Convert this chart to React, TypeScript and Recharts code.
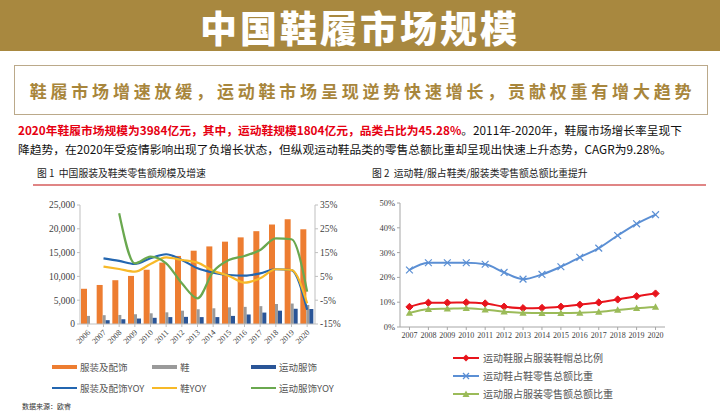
import React from 'react';
import { ComposedChart, LineChart, Bar, Line, XAxis, YAxis } from 'recharts';

// ---------- Chart 1 data ----------
const years1 = ['2006', '2007', '2008', '2009', '2010', '2011', '2012', '2013', '2014', '2015', '2016', '2017', '2018', '2019', '2020'];
const apparelSales = [7400, 8200, 9200, 10100, 11400, 12900, 14300, 15400, 16300, 17300, 18200, 19500, 20900, 22000, 19900];
const shoeSales = [1700, 1850, 1900, 2050, 2250, 2450, 2800, 3100, 3300, 3500, 3600, 3750, 4200, 4300, 4000];
const sportSales = [0, 800, 1000, 1150, 1300, 1450, 1500, 1450, 1450, 1700, 2000, 2400, 2800, 3200, 3150];
const apparelYoy = [null, 12.6, 11.5, 10.2, 12.6, 14.3, 11.9, 8.4, 6.6, 5.6, 5.3, 6.3, 8.0, 7.6, -9.0];
const shoeYoy = [null, 9.1, 8.1, 7.0, 10.2, 13.0, 11.9, 10.8, 7.4, 5.2, 2.4, 4.2, 8.0, 7.7, -6.3];
const sportYoy = [null, null, 31.5, 10.5, 13.3, 10.5, 2.1, -4.2, 7.0, 11.9, 13.6, 16.1, 21.0, 20.6, -1.4];
const leftTicks = [0, 5000, 10000, 15000, 20000, 25000];
const rightTicks = [-15, -10, -5, 0, 5, 10, 15, 20, 25, 30, 35];

// ---------- Chart 2 data ----------
const years2 = ['2007', '2008', '2009', '2010', '2011', '2012', '2013', '2014', '2015', '2016', '2017', '2018', '2019', '2020'];
const sportTotalShare = [8.1, 9.8, 9.8, 9.9, 9.5, 8.2, 7.6, 7.7, 8.2, 9.0, 9.9, 11.1, 12.4, 13.5];
const sportShoeShare = [23.0, 25.9, 25.9, 25.9, 25.3, 22.0, 19.3, 21.2, 24.3, 28.1, 31.8, 36.9, 41.6, 45.3];
const sportApparelShare = [5.7, 7.2, 7.4, 7.6, 7.0, 6.2, 5.7, 5.6, 5.6, 5.7, 6.1, 6.9, 7.6, 8.1];
const shareTicks = [0, 5, 10, 15, 20, 25, 30, 35, 40, 45, 50];

const data1 = years1.map((y, i) => ({
  year: y,
  apparel: apparelSales[i],
  shoe: shoeSales[i],
  sport: sportSales[i],
  apparelYoy: apparelYoy[i],
  shoeYoy: shoeYoy[i],
  sportYoy: sportYoy[i],
}));

const data2 = years2.map((y, i) => ({
  year: y,
  total: sportTotalShare[i],
  shoe: sportShoeShare[i],
  apparel: sportApparelShare[i],
}));

const C_ORANGE = '#ed7d31';
const C_GRAY = '#9a9a9a';
const C_NAVY = '#2a5597';
const C_BLUE = '#2366b0';
const C_YELLOW = '#f7b928';
const C_GREEN = '#6aa84f';

const C2_RED = '#e8141c';
const C2_BLUE = '#5b8fd4';
const C2_GREEN = '#9bbb59';

const CJK = '"Noto Sans CJK SC", "Noto Sans", sans-serif';
const SERIF = '"Liberation Serif", "DejaVu Serif", serif';

const RotTick = (props: any) => {
  const { x, y, payload } = props;
  const tx = x + 3;
  const ty = y + 4;
  return (
    <text x={tx} y={ty} transform={`rotate(-45, ${tx}, ${ty})`} textAnchor="end" fontSize={8} fontFamily={SERIF} fill="#404040">
      {payload.value}
    </text>
  );
};

const Diamond = (props: any) => {
  const { cx, cy, index } = props;
  if (cx == null || cy == null) return <g key={`dm${index}`} />;
  const s = 3.6;
  return <polygon key={`dm${index}`} points={`${cx},${cy - s} ${cx + s},${cy} ${cx},${cy + s} ${cx - s},${cy}`} fill={C2_RED} stroke={C2_RED} strokeWidth={1} />;
};

const Cross = (props: any) => {
  const { cx, cy, index } = props;
  if (cx == null || cy == null) return <g key={`cr${index}`} />;
  const s = 3.4;
  return (
    <g key={`cr${index}`}>
      <line x1={cx - s} y1={cy - s} x2={cx + s} y2={cy + s} stroke={C2_BLUE} strokeWidth={1.2} />
      <line x1={cx - s} y1={cy + s} x2={cx + s} y2={cy - s} stroke={C2_BLUE} strokeWidth={1.2} />
    </g>
  );
};

const Tri = (props: any) => {
  const { cx, cy, index } = props;
  if (cx == null || cy == null) return <g key={`tr${index}`} />;
  const s = 3.6;
  return <polygon key={`tr${index}`} points={`${cx},${cy - s} ${cx + s},${cy + s * 0.8} ${cx - s},${cy + s * 0.8}`} fill={C2_GREEN} />;
};

const legend1 = [
  { label: '服装及配饰', color: C_ORANGE, thick: true, x: 52, y: 367 },
  { label: '鞋', color: C_GRAY, thick: true, x: 152, y: 367 },
  { label: '运动服饰', color: C_NAVY, thick: true, x: 251, y: 367 },
  { label: '服装及配饰YOY', color: C_BLUE, thick: false, x: 52, y: 388 },
  { label: '鞋YOY', color: C_YELLOW, thick: false, x: 152, y: 388 },
  { label: '运动服饰YOY', color: C_GREEN, thick: false, x: 251, y: 388 },
];

const legend2 = [
  { label: '运动鞋服占服装鞋帽总比例', color: C2_RED, marker: 'diamond', y: 358 },
  { label: '运动鞋占鞋零售总额比重', color: C2_BLUE, marker: 'cross', y: 376 },
  { label: '运动服占服装零售额总额比重', color: C2_GREEN, marker: 'tri', y: 394 },
];

export default function App() {
  return (
    <div style={{ position: 'absolute', left: 0, top: 0, width: 720, height: 412, background: '#fff', overflow: 'hidden', fontFamily: CJK }}>
      {/* Banner */}
      <div style={{ position: 'absolute', left: 0, top: 0, width: 720, height: 51, background: '#a8883f' }} />
      <div style={{ position: 'absolute', left: 0, top: 7, width: 720, lineHeight: '40px', textAlign: 'center', color: '#fff', fontSize: 37, fontWeight: 900, letterSpacing: 3, whiteSpace: 'nowrap' }}>
        中国鞋履市场规模
      </div>

      {/* Subtitle box */}
      <div style={{ position: 'absolute', left: 14, top: 65, width: 692, height: 48, border: '1.5px solid #bba98a' }} />
      <div style={{ position: 'absolute', left: 14, top: 65, width: 697, height: 51, lineHeight: '51px', textAlign: 'center', color: '#a8863c', fontSize: 17, fontWeight: 700, letterSpacing: 3.8, whiteSpace: 'nowrap' }}>
        鞋履市场增速放缓，运动鞋市场呈现逆势快速增长，贡献权重有增大趋势
      </div>

      {/* Paragraph */}
      <div style={{ position: 'absolute', left: 18, top: 121, fontSize: 11.75, lineHeight: '18px', color: '#111', whiteSpace: 'nowrap' }}>
        <span style={{ color: '#e60012', fontWeight: 700 }}>2020年鞋履市场规模为3984亿元，其中，运动鞋规模1804亿元，品类占比为45.28%</span>。2011年-2020年，鞋履市场增长率呈现下
      </div>
      <div style={{ position: 'absolute', left: 18, top: 140, fontSize: 11.75, lineHeight: '18px', color: '#111', whiteSpace: 'nowrap' }}>
        降趋势，在2020年受疫情影响出现了负增长状态，但纵观运动鞋品类的零售总额比重却呈现出快速上升态势，CAGR为9.28%。
      </div>

      {/* Chart titles */}
      <div style={{ position: 'absolute', left: 37, top: 166, fontSize: 9.8, lineHeight: '14px', color: '#222', whiteSpace: 'nowrap' }}>
        图 1&nbsp;&nbsp;中国服装及鞋类零售额规模及增速
      </div>
      <div style={{ position: 'absolute', left: 372, top: 166, fontSize: 9.8, lineHeight: '14px', color: '#222', whiteSpace: 'nowrap' }}>
        图 2&nbsp;&nbsp;运动鞋/服占鞋类/服装类零售额总额比重提升
      </div>
      <div style={{ position: 'absolute', left: 33, top: 184, width: 673, height: 1.5, background: '#e08585' }} />

      {/* Chart 1 */}
      <div style={{ position: 'absolute', left: 30, top: 195 }}>
        <ComposedChart width={330} height={165} data={data1} margin={{ top: 10, right: 5, bottom: 6, left: 0 }} barGap={0}>
          <XAxis dataKey="year" tick={<RotTick />} interval={0} height={30} axisLine={{ stroke: '#bfbfbf' }} tickLine={{ stroke: '#bfbfbf' }} tickSize={3} />
          <YAxis yAxisId="left" width={50} domain={[0, 25000]} ticks={leftTicks} tickFormatter={(v: number) => v.toLocaleString('en-US')} tick={{ fontSize: 9.5, fontFamily: SERIF, fill: '#404040' }} axisLine={{ stroke: '#bfbfbf' }} tickLine={{ stroke: '#bfbfbf' }} tickSize={3} />
          <YAxis yAxisId="right" orientation="right" width={40} domain={[-15, 35]} ticks={rightTicks} tickFormatter={(v: number) => `${v}%`} tick={{ fontSize: 9.5, fontFamily: SERIF, fill: '#404040' }} axisLine={{ stroke: '#bfbfbf' }} tickLine={{ stroke: '#bfbfbf' }} tickSize={3} />
          <Bar yAxisId="left" dataKey="apparel" fill={C_ORANGE} barSize={6} isAnimationActive={false} />
          <Bar yAxisId="left" dataKey="shoe" fill={C_GRAY} barSize={3} isAnimationActive={false} />
          <Bar yAxisId="left" dataKey="sport" fill={C_NAVY} barSize={4} isAnimationActive={false} />
          <Line yAxisId="right" type="monotone" dataKey="apparelYoy" stroke={C_BLUE} strokeWidth={2.2} dot={false} isAnimationActive={false} />
          <Line yAxisId="right" type="monotone" dataKey="shoeYoy" stroke={C_YELLOW} strokeWidth={2.2} dot={false} isAnimationActive={false} />
          <Line yAxisId="right" type="monotone" dataKey="sportYoy" stroke={C_GREEN} strokeWidth={2.2} dot={false} isAnimationActive={false} />
        </ComposedChart>
      </div>

      {/* Legend 1 */}
      {legend1.map((l) => (
        <div key={l.label} style={{ position: 'absolute', left: l.x, top: l.y - 7, height: 14, display: 'flex', alignItems: 'center', whiteSpace: 'nowrap' }}>
          <div style={{ width: 25, height: l.thick ? 4 : 2, background: l.color, marginRight: 3 }} />
          <span style={{ fontSize: 9.5, color: '#555', lineHeight: '14px' }}>{l.label}</span>
        </div>
      ))}
      <div style={{ position: 'absolute', left: 22, top: 401, fontSize: 7, color: '#333', lineHeight: '10px', whiteSpace: 'nowrap' }}>数据来源：欧睿</div>

      {/* Chart 2 */}
      <div style={{ position: 'absolute', left: 360, top: 195 }}>
        <LineChart width={320} height={152} data={data2} margin={{ top: 8, right: 15, bottom: 2, left: 0 }}>
          <XAxis dataKey="year" scale="band" interval={0} height={18} tick={{ fontSize: 8, fontFamily: SERIF, fill: '#404040' }} axisLine={{ stroke: '#a6a6a6' }} tickLine={{ stroke: '#a6a6a6' }} tickSize={3} tickMargin={2} />
          <YAxis width={40} domain={[0, 50]} ticks={shareTicks} tickFormatter={(v: number) => `${v}%`} tick={{ fontSize: 8.5, fontFamily: SERIF, fill: '#404040' }} axisLine={{ stroke: '#a6a6a6' }} tickLine={{ stroke: '#a6a6a6' }} tickSize={3} />
          <Line type="monotone" dataKey="total" stroke={C2_RED} strokeWidth={2} dot={Diamond} isAnimationActive={false} />
          <Line type="monotone" dataKey="shoe" stroke={C2_BLUE} strokeWidth={2} dot={Cross} isAnimationActive={false} />
          <Line type="monotone" dataKey="apparel" stroke={C2_GREEN} strokeWidth={2} dot={Tri} isAnimationActive={false} />
        </LineChart>
      </div>

      {/* Legend 2 */}
      {legend2.map((l) => (
        <div key={l.label} style={{ position: 'absolute', left: 453, top: l.y - 7, height: 14, display: 'flex', alignItems: 'center', whiteSpace: 'nowrap' }}>
          <svg width={26} height={10} style={{ marginRight: 4 }}>
            <line x1={0} y1={5} x2={26} y2={5} stroke={l.color} strokeWidth={2} />
            {l.marker === 'diamond' && <polygon points="13,1.5 16.5,5 13,8.5 9.5,5" fill={l.color} />}
            {l.marker === 'cross' && (
              <g>
                <line x1={10} y1={2} x2={16} y2={8} stroke={l.color} strokeWidth={1.2} />
                <line x1={10} y1={8} x2={16} y2={2} stroke={l.color} strokeWidth={1.2} />
              </g>
            )}
            {l.marker === 'tri' && <polygon points="13,1.5 16.5,8 9.5,8" fill={l.color} />}
          </svg>
          <span style={{ fontSize: 10, color: '#555', lineHeight: '14px' }}>{l.label}</span>
        </div>
      ))}
    </div>
  );
}
